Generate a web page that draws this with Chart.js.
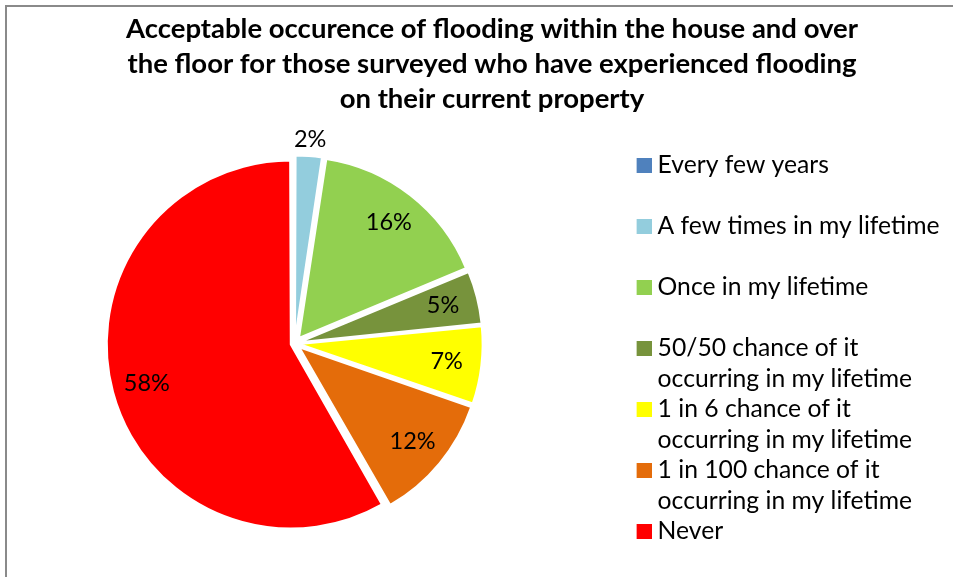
<!DOCTYPE html>
<html>
<head>
<meta charset="utf-8">
<script src="https://cdn.jsdelivr.net/npm/chart.js@4.4.0/dist/chart.umd.min.js"></script>
<style>
  html, body { margin: 0; padding: 0; background: #ffffff; overflow: hidden; }
  #wrap { position: relative; width: 953px; height: 577px; overflow: hidden; }
</style>
</head>
<body>
<div id="wrap"><canvas id="c" width="953" height="580"></canvas></div>
<script>
const titleLines = [
  'Acceptable occurence of flooding within the house and over',
  'the floor for those surveyed who have experienced flooding',
  'on their current property'
];
const categories = [
  ['Every few years', ''],
  ['A few times in my lifetime', ''],
  ['Once in my lifetime', ''],
  ['50/50 chance of it', 'occurring in my lifetime'],
  ['1 in 6 chance of it', 'occurring in my lifetime'],
  ['1 in 100 chance of it', 'occurring in my lifetime'],
  ['Never', '']
];
const percentValues = [0, 2.4, 16.3, 4.7, 6.9, 11.4, 58.3];
const percentLabels = ['', '2%', '16%', '5%', '7%', '12%', '58%'];
const sliceColors = ['#4F81BD', '#93CDDD', '#92D050', '#77933C', '#FFFF00', '#E46C0A', '#FF0000'];

const FONT = 'Lato, "Liberation Sans", sans-serif';
const EXPLODE = 8;
const LEGEND_FONT = 24.7;
const MARKER_SLOT = 90.3;   // legend marker slot width (includes gap to the pie)
const MARKER_IMG_W = 103;   // marker image width; square sits at its right end
const MARKER_SIZE = 15;

function makeMarker(color) {
  const cv = document.createElement('canvas');
  cv.width = MARKER_IMG_W;
  cv.height = MARKER_SIZE;
  const g = cv.getContext('2d');
  g.fillStyle = color;
  g.fillRect(MARKER_IMG_W - MARKER_SIZE, 0, MARKER_SIZE, MARKER_SIZE);
  return cv;
}
const markers = sliceColors.map(makeMarker);

const borderPlugin = {
  id: 'frame',
  beforeDraw(chart) {
    const ctx = chart.ctx;
    ctx.save();
    ctx.fillStyle = '#ffffff';
    ctx.fillRect(0, 0, chart.width, chart.height);
    ctx.strokeStyle = '#8a8a8a';
    ctx.lineWidth = 2;
    ctx.strokeRect(6, 6, chart.width + 20, chart.height + 20);
    ctx.restore();
  }
};

const labelPlugin = {
  id: 'sliceLabels',
  afterDatasetsDraw(chart) {
    const ctx = chart.ctx;
    const meta = chart.getDatasetMeta(0);
    ctx.save();
    ctx.font = '23.5px ' + FONT;
    ctx.fillStyle = '#000000';
    ctx.textAlign = 'center';
    ctx.textBaseline = 'middle';
    meta.data.forEach((arc, i) => {
      const text = percentLabels[i];
      if (!text) return;
      const p = arc.getProps(['x', 'y', 'startAngle', 'endAngle', 'outerRadius'], true);
      const mid = (p.startAngle + p.endAngle) / 2;
      const span = p.endAngle - p.startAngle;
      const r = span < 0.2 ? p.outerRadius + 25 : p.outerRadius * 0.85;
      ctx.fillText(text, p.x + Math.cos(mid) * r, p.y + Math.sin(mid) * r);
    });
    ctx.restore();
  }
};

new Chart(document.getElementById('c'), {
  type: 'pie',
  data: {
    labels: categories,
    datasets: [{
      data: percentValues,
      backgroundColor: sliceColors,
      borderColor: '#ffffff',
      borderWidth: 2,
      offset: (c) => {
        const total = percentValues.reduce((s, v) => s + v, 0);
        const circ = (c.raw / total) * Math.PI * 2;
        const fix = 1 - Math.sin(Math.min(Math.PI, circ));
        return EXPLODE * 4 / (1 + fix);
      }
    }]
  },
  options: {
    responsive: false,
    animation: false,
    radius: 180,
    layout: { padding: { left: 34.4, right: 3.4, top: 0, bottom: 0 } },
    plugins: {
      title: {
        display: true,
        text: titleLines,
        color: '#000000',
        font: { family: FONT, size: 27.5, weight: 'bold', lineHeight: 35 / 27.5 },
        padding: { top: 12, bottom: -10 }
      },
      legend: {
        position: 'right',
        align: 'end',
        fullSize: false,
        labels: {
          color: '#000000',
          font: { family: FONT, size: LEGEND_FONT, lineHeight: 30.5 / LEGEND_FONT },
          usePointStyle: true,
          pointStyleWidth: MARKER_SLOT,
          boxWidth: MARKER_SIZE,
          boxHeight: MARKER_SIZE,
          padding: 0,
          generateLabels(chart) {
            const items = Chart.overrides.pie.plugins.legend.labels.generateLabels(chart);
            items.forEach((it, i) => {
              it.lineWidth = 0;
              it.strokeStyle = it.fillStyle;
              it.pointStyle = markers[i];
              it.rotation = 0;
            });
            return items;
          }
        }
      },
      tooltip: { enabled: false }
    }
  },
  plugins: [borderPlugin, labelPlugin]
});
</script>
</body>
</html>
